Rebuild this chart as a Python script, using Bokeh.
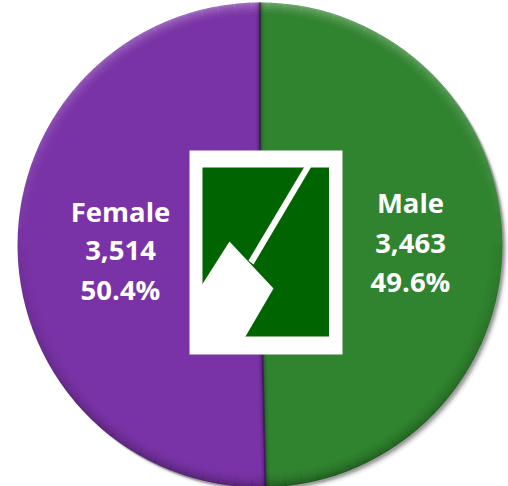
import math
import numpy as np
from bokeh.plotting import figure
from bokeh.models import Range1d
from bokeh.core.properties import value
from bokeh.embed import file_html
from bokeh.resources import INLINE

categories = ["Male", "Female"]
counts = [3463, 3514]
colors = ["#30832F", "#7A33A6"]

W, H = 508, 486
CX, CY, R = 259.5, H - 244.5, 242.5
total = sum(counts)
START = math.radians(90)  # first slice starts at 12 o'clock, clockwise


def Y(py):
    return H - py


p = figure(width=W, height=H, x_range=Range1d(0, W), y_range=Range1d(0, H),
           output_backend="svg", toolbar_location=None, min_border=0,
           outline_line_color=None, background_fill_color="white")
p.axis.visible = False
p.grid.visible = False

# soft shadow
for off, rr, a in [(6, R + 1, .05), (5, R, .07), (4, R, .09), (3, R, .10), (2, R, .12)]:
    p.circle(x=[CX + off * .8], y=[CY - off * .8], radius=rr, fill_color="#000000",
             fill_alpha=a, line_color=None)

# slices
angles = []
a0 = START
for name, c, col in zip(categories, counts, colors):
    a1 = a0 - 2 * math.pi * c / total
    p.wedge(x=[CX], y=[CY], radius=R, start_angle=a1, end_angle=a0,
            fill_color=col, line_color=None)
    angles.append((a0, a1))
    a0 = a1

# rim bevel: thin rings lit from above, dark below
rings = 9
sectors = 90
xs, ys, ri, ro, sa, ea, fc, fa = [], [], [], [], [], [], [], []
for i in range(rings):
    t = (i + 1) / rings  # 1 at outer edge
    for j in range(sectors):
        s = 2 * math.pi * j / sectors
        e = 2 * math.pi * (j + 1) / sectors
        n = math.sin((s + e) / 2)
        strength = n * t ** 2
        xs.append(CX); ys.append(CY)
        ri.append(R - rings * 1.6 + i * 1.6); ro.append(R - rings * 1.6 + (i + 1) * 1.6)
        sa.append(s); ea.append(e + .002)
        if strength > 0:
            fc.append("#ffffff"); fa.append(.28 * strength)
        else:
            fc.append("#000000"); fa.append(.26 * -strength + .03 * t)
p.annular_wedge(x=xs, y=ys, inner_radius=ri, outer_radius=ro, start_angle=sa, end_angle=ea,
                fill_color=fc, fill_alpha=fa, line_color=None)

# radial bevel along slice boundaries
for a0, a1 in angles:
    bx, by = CX + R * math.cos(a0), CY + R * math.sin(a0)
    for lw, al in [(9, .06), (6, .10), (3, .20), (1.5, .45)]:
        p.line([CX, bx], [CY, by], line_width=lw, line_color="#200030", line_alpha=al)

# logo
p.quad(left=[189], right=[342], top=[Y(150)], bottom=[Y(354)], fill_color="white", line_color=None)
p.quad(left=[202], right=[328.5], top=[Y(167)], bottom=[Y(336)], fill_color="#006400", line_color=None)
p.patch([201, 229, 273, 245, 244, 201], [Y(v) for v in (285, 241, 288, 336, 337, 337)],
        fill_color="white", line_color=None)
p.patch([248, 304, 311, 253], [Y(v) for v in (260, 166, 166, 264)], fill_color="white", line_color=None)

# labels
label_pos = {"Male": (410, [202, 243, 281]), "Female": (120, [211, 250, 289])}
for name, c in zip(categories, counts):
    lx, lys = label_pos[name]
    for txt, ly in zip([name, f"{c:,}", f"{100 * c / total:.1f}%"], lys):
        p.text(x=[lx], y=[Y(ly)], text=[txt], text_color="white", text_font=value("Open Sans"),
               text_font_style="bold", text_font_size="27.5px", text_align="center",
               text_baseline="middle")

open("out.html", "w").write(file_html(p, INLINE))
